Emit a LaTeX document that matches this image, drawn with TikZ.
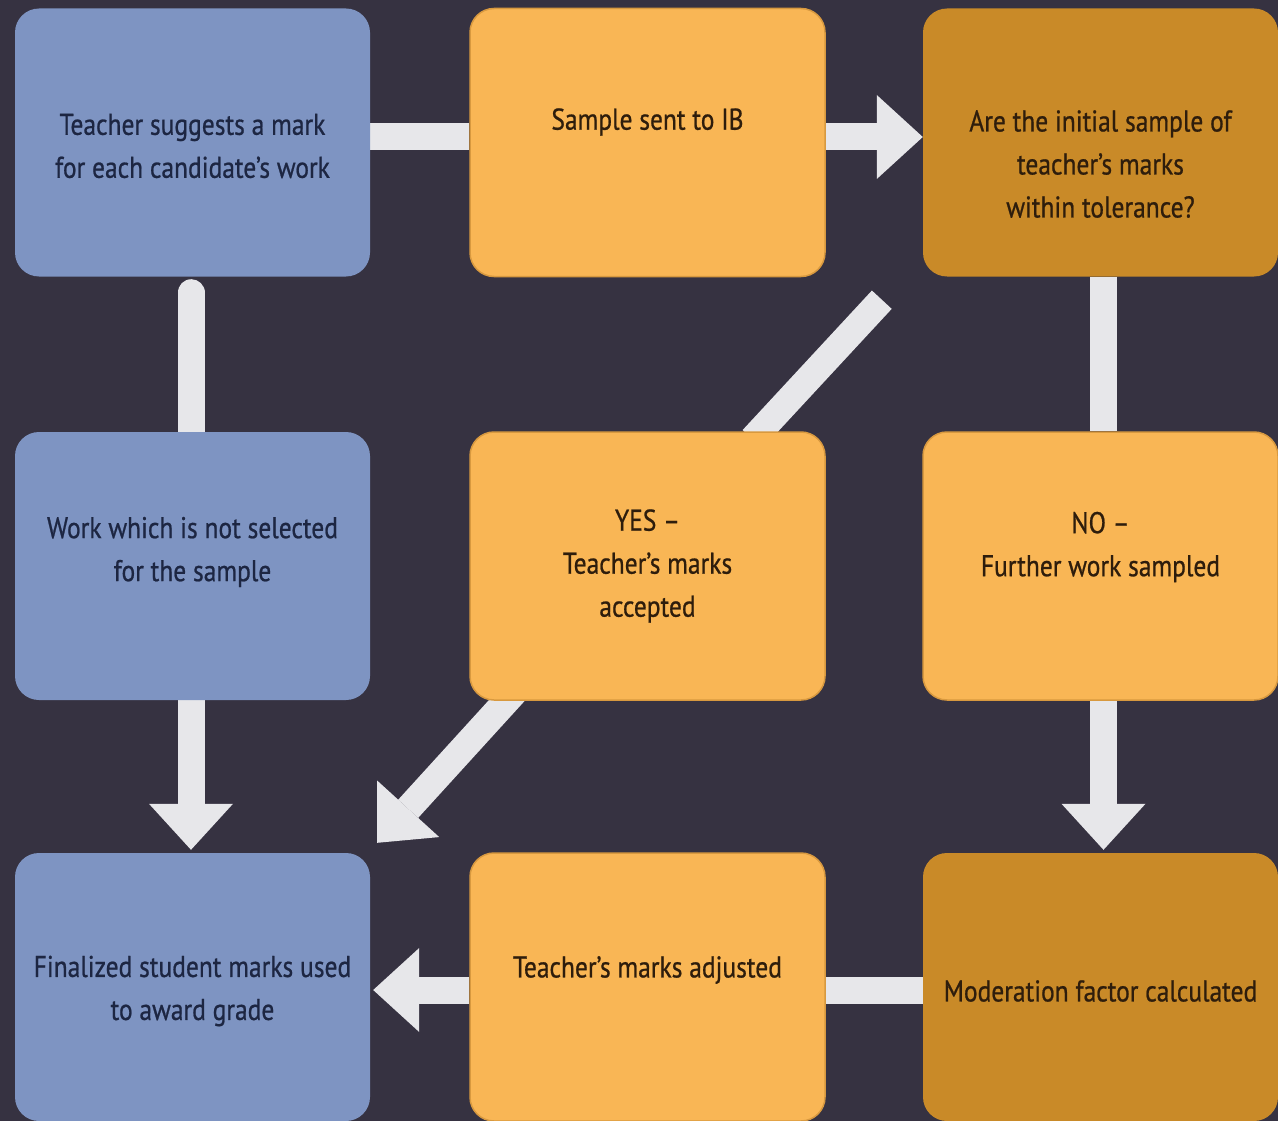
\documentclass[tikz,border=0pt]{standalone}
\usepackage{fontspec}
\setmainfont{PT Sans}[FakeStretch=0.85,FakeBold=0.7]
\usetikzlibrary{arrows.meta,calc}
\definecolor{bgc}{HTML}{363241}
\definecolor{bluec}{HTML}{7E94C2}
\definecolor{lorange}{HTML}{F9B655}
\definecolor{lorangeedge}{HTML}{D8993F}
\definecolor{dorange}{HTML}{C98A28}
\definecolor{barc}{HTML}{E7E7EA}
\definecolor{bluetext}{HTML}{1D2642}
\definecolor{orangetext}{HTML}{2E1D0C}
\pgfdeclarelayer{bglayer}
\pgfdeclarelayer{connlayer}
\pgfsetlayers{bglayer,connlayer,main}
\begin{document}
\begin{tikzpicture}[x=1pt,y=-1pt,
  box/.style={rounded corners=24pt, minimum width=355pt, minimum height=268pt, inner sep=0pt},
  bluebox/.style={box, fill=bluec},
  lightbox/.style={box, fill=lorange, draw=lorangeedge, line width=1.5pt},
  darkbox/.style={box, fill=dorange},
  txt/.style={align=center, font=\fontsize{30}{43}\selectfont, inner sep=0pt},
  btxt/.style={txt, text=bluetext},
  otxt/.style={txt, text=orangetext},
  fat/.style={draw=barc, line width=27pt},
  fatarrow/.style={fat, -{Triangle[width=84pt,length=46pt,line width=0pt]}}
]
\begin{pgfonlayer}{bglayer}
\fill[bgc] (0,0) rectangle (1278,1121);
\end{pgfonlayer}
\useasboundingbox (0,0) rectangle (1278,1121);

% boxes
\node[bluebox]  (b1) at (192.5,142.5) {};
\node[lightbox] (b2) at (647.5,142.5) {};
\node[darkbox]  (b3) at (1100.5,142.5) {};
\node[bluebox]  (b4) at (192.5,566) {};
\node[lightbox] (b5) at (647.5,566) {};
\node[lightbox] (b6) at (1100.5,566) {};
\node[bluebox]  (b7) at (192.5,987) {};
\node[lightbox] (b8) at (647.5,987) {};
\node[darkbox]  (b9) at (1100.5,987) {};

% texts
\node[btxt] (t1) at (192.5,146) {Teacher suggests a mark\\for each candidate's work};
\node[otxt] (t2) at (647.5,122) {Sample sent to IB};
\node[otxt] (t3) at (1100.5,164) {Are the initial sample of\\teacher's marks\\within tolerance?};
\node[btxt] (t4) at (192.5,552) {Work which is not selected\\for the sample};
\node[otxt] (t5) at (647.5,566) {YES –\\Teacher's marks\\accepted};
\node[otxt] (t6) at (1100.5,547) {NO –\\Further work sampled};
\node[btxt] (t7) at (192.5,991) {Finalized student marks used\\to award grade};
\node[otxt] (t8) at (647.5,970) {Teacher's marks adjusted};
\node[otxt] (t9) at (1100.5,991) {Moderation factor calculated};

% connectors
\begin{pgfonlayer}{connlayer}
\draw[fat] ([yshift=5.5pt]b1.east) -- ([yshift=5.5pt]b2.west);
\draw[fatarrow] ([yshift=5.5pt]b2.east) -- ([yshift=5.5pt]b3.west);
\draw[fat, line cap=round] ([xshift=-1.5pt,yshift=-16pt]b1.south) -- ([xshift=-1.5pt]b4.north);
\draw[fat] ([xshift=3pt]b3.south) -- ([xshift=3pt]b6.north);
\draw[fat] ($(b3.south west)+(-41,23)$) -- ($(b5.north)+(105,8)$);
\draw[fatarrow] ([xshift=-1.5pt]b4.south) -- ([xshift=-1.5pt,yshift=3pt]b7.north);
\draw[fatarrow] ([xshift=3pt]b6.south) -- ([xshift=3pt,yshift=3pt]b9.north);
\draw[fatarrow] ($(b5.south)+(-130,-12)$) -- ($(b7.north east)+(7,-10)$);
\draw[fat] ([yshift=-3pt]b9.west) -- ([yshift=-3pt]b8.east);
\draw[fatarrow] ([yshift=-3pt]b8.west) -- ([xshift=3pt,yshift=-3pt]b7.east);
\end{pgfonlayer}
\end{tikzpicture}
\end{document}
